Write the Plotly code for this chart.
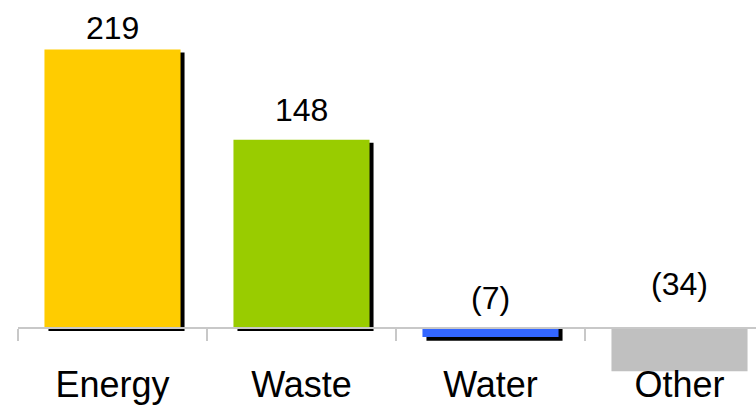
import plotly.graph_objects as go

# Contribution by category
categories = ["Energy", "Waste", "Water", "Other"]
values = [219, 148, -7, -34]
value_labels = ["219", "148", "(7)", "(34)"]

bar_colors = ["#FFCC00", "#99CC00", "#3366FF", "#C0C0C0"]
has_shadow = [True, True, True, False]
label_lift_px = [9, 18, 18, 32]   # gap between label baseline and bar end / zero line

W, H = 756, 405
left_margin = 18
y_min, y_max = -60.5, 257.9
x_range = [-0.5, 3.5 - left_margin / 189.0]

px_per_unit_y = H / (y_max - y_min)
px_per_unit_x = (W - left_margin) / (x_range[1] - x_range[0])
shadow_dx = 4 / px_per_unit_x
shadow_dy = 3 / px_per_unit_y
bar_width = 0.72

fig = go.Figure()

# drop shadows: the same bars moved right and down
sh_x, sh_y, sh_base = [], [], []
for c, v, s in zip(categories, values, has_shadow):
    if not s:
        continue
    sh_x.append(c)
    if v >= 0:
        sh_base.append(-shadow_dy)
        sh_y.append(v)
    else:
        sh_base.append(-shadow_dy * 0.3)
        sh_y.append(v - shadow_dy)
fig.add_trace(go.Bar(
    x=sh_x, y=sh_y, base=sh_base, width=bar_width,
    offset=-bar_width / 2 + shadow_dx,
    marker=dict(color="black", line=dict(width=0)),
    hoverinfo="skip", showlegend=False,
))

fig.add_trace(go.Bar(
    x=categories, y=values, width=bar_width,
    offset=-bar_width / 2,
    marker=dict(color=bar_colors, line=dict(width=0)),
    showlegend=False,
))

for c, v, t, lift in zip(categories, values, value_labels, label_lift_px):
    fig.add_annotation(
        x=c, y=max(v, 0), text=t, showarrow=False,
        yanchor="bottom", yshift=lift - 8,
        font=dict(family="Liberation Sans, Arial, sans-serif", size=32, color="black"),
    )

zero_pos = (0 - y_min) / (y_max - y_min)

fig.update_layout(
    width=W, height=H,
    margin=dict(l=left_margin, r=0, t=0, b=0),
    paper_bgcolor="white", plot_bgcolor="white",
    barmode="overlay",
    font=dict(family="Liberation Sans, Arial, sans-serif", color="black"),
    xaxis=dict(
        type="category", range=x_range,
        anchor="free", position=zero_pos,
        showline=True, linecolor="#C8C8C8", linewidth=1.5,
        ticks="outside", tickson="boundaries", ticklen=12,
        tickcolor="#C8C8C8", tickwidth=1.5,
        tickfont=dict(size=36, color="black"),
        ticklabelstandoff=25,
        showgrid=False, zeroline=False,
    ),
    yaxis=dict(
        range=[y_min, y_max], visible=False,
        showgrid=False, zeroline=False,
    ),
)

fig.write_html("out.html")
